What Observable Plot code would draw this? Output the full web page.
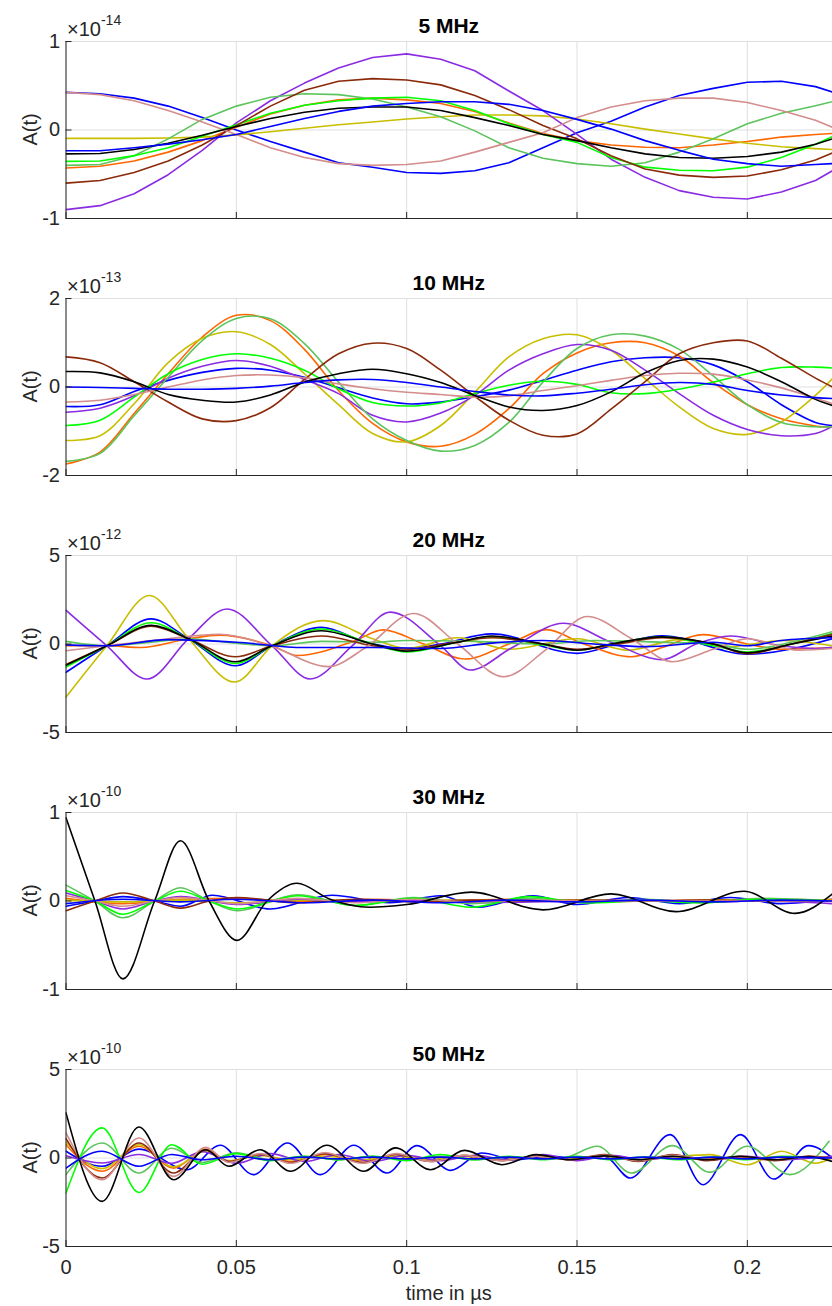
<!DOCTYPE html>
<html>
<head>
<meta charset="utf-8">
<script src="https://cdn.jsdelivr.net/npm/d3@7"></script>
<script src="https://cdn.jsdelivr.net/npm/@observablehq/plot@0.6"></script>
<style>
  body { margin: 0; background: #fff; }
  #chart { width: 832px; height: 1306px; overflow: hidden; font-family: "Liberation Sans", Arial, Helvetica, sans-serif; }
  #chart svg { display: block; }
</style>
</head>
<body>
<div id="chart"></div>
<script>
// ---------- shared axis setup ----------
const xTicks = [0, 0.05, 0.1, 0.15, 0.2];
const xTickLabels = ["0", "0.05", "0.1", "0.15", "0.2"];
const xLabel = "time in \u00B5s";
const yLabel = "A(t)";

// line colours, one per receiver trace
const colBlue = "#0000FF", colOrange = "#FF6600", colYellow = "#C8BE00", colPurple = "#8B2BE2",
      colMidGreen = "#5CC45C", colGreen = "#00FF00", colBrown = "#8B2A0A", colPink = "#D48C8C",
      colBlack = "#000000";

// ---------- 5 MHz (x 1e-14) sampled every 0.01 µs ----------
const t5 = [0, 0.01, 0.02, 0.03, 0.04, 0.05, 0.06, 0.07, 0.08, 0.09, 0.1, 0.11, 0.12, 0.13, 0.14, 0.15, 0.16, 0.17, 0.18, 0.19, 0.2, 0.21, 0.22, 0.225];
const f5_blue    = [0.425, 0.41, 0.36, 0.27, 0.14, 0.00, -0.13, -0.25, -0.37, -0.42, -0.48, -0.49, -0.46, -0.37, -0.20, -0.03, 0.10, 0.26, 0.39, 0.47, 0.54, 0.55, 0.49, 0.43];
const f5_orange  = [-0.43, -0.41, -0.35, -0.25, -0.12, 0.03, 0.18, 0.28, 0.34, 0.36, 0.34, 0.30, 0.21, 0.08, -0.04, -0.12, -0.17, -0.195, -0.2, -0.17, -0.13, -0.08, -0.05, -0.04];
const f5_yellow  = [-0.095, -0.095, -0.095, -0.09, -0.08, -0.055, -0.02, 0.02, 0.06, 0.09, 0.125, 0.15, 0.17, 0.17, 0.16, 0.125, 0.07, 0.01, -0.045, -0.10, -0.15, -0.19, -0.21, -0.22];
const f5_purple  = [-0.90, -0.855, -0.72, -0.505, -0.23, 0.08, 0.33, 0.53, 0.70, 0.82, 0.86, 0.80, 0.67, 0.44, 0.22, -0.05, -0.33, -0.535, -0.685, -0.76, -0.78, -0.70, -0.57, -0.46];
const f5_midGreen= [-0.40, -0.39, -0.29, -0.10, 0.12, 0.27, 0.37, 0.41, 0.40, 0.35, 0.26, 0.15, -0.01, -0.20, -0.32, -0.38, -0.41, -0.37, -0.25, -0.10, 0.07, 0.19, 0.275, 0.32];
const f5_green   = [-0.355, -0.35, -0.29, -0.20, -0.07, 0.06, 0.19, 0.28, 0.33, 0.36, 0.37, 0.33, 0.22, 0.07, -0.05, -0.14, -0.31, -0.42, -0.455, -0.46, -0.42, -0.31, -0.16, -0.075];
const f5_brown   = [-0.60, -0.57, -0.48, -0.35, -0.17, 0.05, 0.27, 0.45, 0.55, 0.58, 0.565, 0.51, 0.39, 0.23, 0.05, -0.10, -0.29, -0.44, -0.51, -0.535, -0.52, -0.45, -0.34, -0.26];
const f5_pink    = [0.425, 0.40, 0.33, 0.22, 0.09, -0.05, -0.20, -0.31, -0.38, -0.40, -0.39, -0.35, -0.25, -0.14, -0.03, 0.14, 0.26, 0.33, 0.36, 0.36, 0.31, 0.22, 0.11, 0.03];
const f5_black   = [-0.27, -0.265, -0.22, -0.15, -0.06, 0.04, 0.13, 0.20, 0.245, 0.26, 0.26, 0.22, 0.14, 0.05, -0.05, -0.12, -0.20, -0.27, -0.31, -0.32, -0.30, -0.25, -0.16, -0.10];
const f5_blue2   = [-0.235, -0.235, -0.20, -0.16, -0.11, -0.05, 0.04, 0.13, 0.21, 0.27, 0.30, 0.32, 0.32, 0.29, 0.22, 0.12, 0.01, -0.12, -0.23, -0.33, -0.38, -0.41, -0.39, -0.38];

// ---------- 10 MHz (x 1e-13) sampled every 0.01 µs ----------
const t10 = t5;
const f10_blue    = [-0.44, -0.40, -0.10, 0.15, 0.33, 0.42, 0.38, 0.22, -0.02, -0.25, -0.38, -0.34, -0.22, -0.07, 0.15, 0.38, 0.57, 0.66, 0.66, 0.50, 0.12, -0.40, -0.80, -0.87];
const f10_orange  = [-1.74, -1.47, -0.60, 0.30, 1.13, 1.62, 1.50, 0.85, -0.08, -0.82, -1.24, -1.34, -1.07, -0.49, 0.30, 0.77, 1.00, 1.00, 0.70, 0.10, -0.40, -0.72, -0.88, -0.91];
const f10_yellow  = [-1.21, -1.10, -0.38, 0.55, 1.10, 1.25, 0.96, 0.30, -0.40, -1.05, -1.24, -0.87, -0.12, 0.68, 1.09, 1.18, 0.83, 0.19, -0.45, -0.94, -1.07, -0.79, -0.19, 0.19];
const f10_purple  = [-0.57, -0.48, -0.20, 0.20, 0.47, 0.60, 0.47, 0.17, -0.15, -0.64, -0.79, -0.59, -0.19, 0.38, 0.75, 0.96, 0.83, 0.38, -0.15, -0.64, -0.96, -1.10, -1.05, -0.89];
const f10_midGreen= [-1.68, -1.50, -0.65, 0.22, 1.05, 1.55, 1.54, 0.98, 0.11, -0.72, -1.21, -1.45, -1.32, -0.80, 0.11, 0.87, 1.18, 1.15, 0.85, 0.25, -0.40, -0.80, -0.90, -0.90];
const f10_green   = [-0.87, -0.75, -0.23, 0.30, 0.62, 0.75, 0.65, 0.38, -0.04, -0.35, -0.43, -0.36, -0.15, 0.04, 0.13, 0.06, -0.13, -0.15, -0.05, 0.11, 0.30, 0.44, 0.45, 0.43];
const f10_brown   = [0.68, 0.55, 0.12, -0.34, -0.72, -0.76, -0.47, 0.17, 0.75, 0.99, 0.87, 0.38, -0.21, -0.75, -1.09, -1.06, -0.50, 0.12, 0.75, 1.00, 1.04, 0.65, 0.20, 0.00];
const f10_pink    = [-0.34, -0.30, -0.17, 0.00, 0.16, 0.26, 0.27, 0.21, 0.07, -0.04, -0.12, -0.17, -0.23, -0.20, -0.08, 0.03, 0.15, 0.26, 0.31, 0.29, 0.16, -0.02, -0.25, -0.38];
const f10_black   = [0.35, 0.32, 0.12, -0.17, -0.30, -0.34, -0.18, 0.11, 0.30, 0.40, 0.30, 0.10, -0.19, -0.45, -0.53, -0.42, -0.11, 0.32, 0.60, 0.63, 0.45, 0.12, -0.28, -0.42];
const f10_blue2   = [0.00, -0.01, -0.03, -0.05, -0.05, -0.03, 0.02, 0.10, 0.16, 0.17, 0.10, 0.00, -0.10, -0.18, -0.20, -0.14, -0.05, 0.05, 0.10, 0.06, -0.08, -0.18, -0.24, -0.26];

// ---------- 20 MHz (x 1e-12) turning points [t, value] ----------
const f20_blue    = [[0,-1.6],[0.012,-0.1],[0.025,1.42],[0.036,0.3],[0.0497,-1.23],[0.0605,-0.1],[0.075,0.94],[0.088,0.1],[0.1,-0.25],[0.11,0.0],[0.125,0.57],[0.15,-0.53],[0.162,0.0],[0.175,0.47],[0.2,-0.57],[0.225,0.3]];
const f20_orange  = [[0,-0.1],[0.012,-0.1],[0.022,-0.2],[0.036,0.3],[0.045,0.5],[0.0605,-0.1],[0.068,-0.65],[0.085,0.2],[0.093,0.8],[0.105,0.0],[0.117,-0.85],[0.13,0.0],[0.141,0.81],[0.152,0.0],[0.166,-0.72],[0.175,-0.2],[0.187,0.53],[0.2,0.0],[0.21,-0.3],[0.225,-0.2]];
const f20_yellow  = [[0,-3.0],[0.012,-0.1],[0.0245,2.74],[0.036,0.3],[0.0495,-2.15],[0.0605,-0.1],[0.0755,1.32],[0.09,0.3],[0.1,-0.25],[0.115,0.35],[0.13,-0.3],[0.15,0.3],[0.165,-0.35],[0.18,0.25],[0.195,-0.15],[0.21,0.2],[0.225,-0.1]];
const f20_purple  = [[0,1.9],[0.012,-0.1],[0.0238,-1.98],[0.036,0.3],[0.0473,1.98],[0.0605,-0.1],[0.0717,-1.98],[0.084,-0.1],[0.0952,1.8],[0.11,-0.1],[0.1187,-1.47],[0.131,-0.2],[0.146,1.17],[0.16,0.1],[0.175,-0.89],[0.185,0.0],[0.195,0.45],[0.21,-0.1],[0.22,-0.25],[0.225,-0.2]];
const f20_midGreen= [[0,0.15],[0.012,-0.1],[0.025,0.1],[0.036,0.3],[0.05,0.05],[0.0605,-0.1],[0.075,0.15],[0.09,0.1],[0.1,0.2],[0.12,0.15],[0.14,0.0],[0.155,0.2],[0.175,0.1],[0.19,0.0],[0.2,-0.3],[0.215,0.2],[0.225,0.7]];
const f20_green   = [[0,-1.3],[0.012,-0.1],[0.025,1.2],[0.036,0.3],[0.0497,-1.1],[0.0605,-0.1],[0.075,0.85],[0.09,0.0],[0.1,-0.45],[0.115,0.1],[0.125,0.4],[0.14,-0.05],[0.15,-0.35],[0.16,0.0],[0.175,0.4],[0.19,-0.1],[0.2,-0.45],[0.213,0.0],[0.225,0.6]];
const f20_brown   = [[0,-1.15],[0.012,-0.1],[0.025,1.0],[0.036,0.3],[0.0497,-0.72],[0.0605,-0.1],[0.075,0.45],[0.09,-0.1],[0.1,-0.3],[0.113,0.05],[0.125,0.35],[0.14,0.0],[0.15,-0.3],[0.162,0.0],[0.175,0.35],[0.19,0.0],[0.2,-0.55],[0.213,0.0],[0.225,0.55]];
const f20_pink    = [[0,-0.38],[0.012,-0.1],[0.03,0.3],[0.045,0.55],[0.06,-0.1],[0.077,-1.28],[0.088,-0.2],[0.102,1.72],[0.115,0.0],[0.1285,-1.85],[0.141,-0.3],[0.153,1.55],[0.166,0.3],[0.178,-1.0],[0.19,-0.3],[0.2,0.3],[0.215,-0.35],[0.225,-0.25]];
const f20_black   = [[0,-1.2],[0.012,-0.1],[0.025,1.05],[0.036,0.3],[0.0497,-1.0],[0.0605,-0.1],[0.075,0.75],[0.09,0.0],[0.1,-0.4],[0.115,0.1],[0.125,0.45],[0.14,0.0],[0.15,-0.35],[0.16,0.0],[0.175,0.4],[0.19,0.0],[0.2,-0.5],[0.213,0.0],[0.225,0.45]];
const f20_blue2   = [[0,-0.05],[0.012,-0.1],[0.03,0.25],[0.05,0.1],[0.07,-0.2],[0.09,-0.2],[0.11,-0.25],[0.125,0.05],[0.14,0.2],[0.155,0.0],[0.17,-0.15],[0.19,0.1],[0.2,-0.1],[0.21,0.2],[0.225,0.35]];

// ---------- 30 MHz (x 1e-10) turning points [t, value] ----------
const f30_blue    = [[0,-0.06],[0.0085,0],[0.0167,0.05],[0.026,0],[0.0336,-0.06],[0.043,0.065],[0.06,-0.09],[0.078,0.065],[0.095,-0.02],[0.11,0.06],[0.121,-0.07],[0.137,0.06],[0.15,-0.04],[0.165,0.04],[0.18,-0.03],[0.195,0.04],[0.21,-0.03],[0.225,0.02]];
const f30_orange  = [[0,0.03],[0.0167,-0.03],[0.0336,0.02],[0.05,0.03],[0.07,-0.01],[0.09,0.02],[0.11,0.0],[0.13,0.02],[0.15,-0.01],[0.17,0.0],[0.19,0.01],[0.21,0.0],[0.225,0.02]];
const f30_yellow  = [[0,0.01],[0.0167,-0.01],[0.0336,0.01],[0.05,-0.02],[0.07,0.01],[0.09,0.0],[0.11,0.01],[0.13,0.0],[0.15,0.01],[0.17,0.0],[0.19,0.01],[0.21,0.02],[0.225,0.01]];
const f30_purple  = [[0,0.09],[0.0085,0],[0.0167,-0.09],[0.026,0],[0.0336,0.05],[0.0502,-0.04],[0.068,0.02],[0.085,-0.01],[0.102,0.01],[0.119,-0.02],[0.136,-0.01],[0.153,0.0],[0.17,0.01],[0.187,-0.01],[0.204,0.0],[0.225,-0.03]];
const f30_midGreen= [[0,0.18],[0.0085,0],[0.0167,-0.19],[0.026,0],[0.0336,0.15],[0.042,0],[0.0502,-0.11],[0.068,0.07],[0.085,-0.05],[0.102,0.04],[0.119,-0.03],[0.136,0.03],[0.153,-0.02],[0.17,0.02],[0.187,-0.02],[0.204,0.03],[0.225,0.0]];
const f30_green   = [[0,0.12],[0.0085,0],[0.0167,-0.15],[0.026,0],[0.0336,0.11],[0.042,0],[0.0502,-0.09],[0.068,0.06],[0.085,-0.05],[0.102,0.03],[0.119,-0.07],[0.136,0.05],[0.153,-0.02],[0.17,0.0],[0.187,-0.02],[0.204,0.02],[0.225,0.0]];
const f30_brown   = [[0,-0.11],[0.0085,0],[0.0167,0.09],[0.026,0],[0.0336,-0.08],[0.042,0],[0.0502,0.04],[0.068,-0.02],[0.085,0.02],[0.102,-0.01],[0.119,0.01],[0.136,0.0],[0.153,0.01],[0.17,0.0],[0.187,0.01],[0.204,0.0],[0.225,0.0]];
const f30_pink    = [[0,0.06],[0.0085,0],[0.0167,-0.06],[0.026,0],[0.0336,0.04],[0.0502,-0.03],[0.068,0.03],[0.085,-0.02],[0.102,0.02],[0.119,-0.01],[0.136,0.01],[0.153,0.0],[0.17,0.0],[0.187,0.0],[0.204,0.0],[0.225,0.0]];
const f30_black   = [[0,0.94],[0.0085,0.0],[0.0167,-0.88],[0.026,0.0],[0.0336,0.68],[0.042,0.0],[0.0502,-0.445],[0.059,0.0],[0.0678,0.2],[0.0775,0.02],[0.089,-0.07],[0.1,-0.04],[0.119,0.1],[0.14,-0.1],[0.16,0.08],[0.179,-0.12],[0.199,0.11],[0.214,-0.14],[0.225,0.08]];
const f30_blue2   = [[0,-0.03],[0.0167,0.02],[0.0336,-0.01],[0.05,0.02],[0.07,-0.02],[0.09,0.01],[0.11,-0.02],[0.13,0.01],[0.15,-0.01],[0.17,0.01],[0.19,-0.01],[0.21,0.01],[0.225,0.0]];

// ---------- 50 MHz (x 1e-10) turning points [t, value] ----------
const f50_blue    = [[0,0.38],[0.0106,-0.47],[0.0214,0.5],[0.0355,-0.66],[0.0453,0.72],[0.055,-0.94],[0.065,0.85],[0.0747,-0.94],[0.0845,0.72],[0.0942,-0.85],[0.103,0.7],[0.113,-0.7],[0.122,0.28],[0.132,-0.1],[0.142,0.1],[0.152,-0.05],[0.158,0.1],[0.1656,-1.13],[0.1773,1.32],[0.187,-1.51],[0.198,1.32],[0.2077,-1.19],[0.218,0.7],[0.225,0.0]];
const f50_orange  = [[0,0.75],[0.0106,-0.75],[0.0214,0.66],[0.0316,-0.57],[0.041,0.5],[0.0478,-0.2],[0.057,0.2],[0.066,-0.2],[0.076,0.2],[0.087,-0.15],[0.097,0.2],[0.107,-0.1],[0.117,0.1],[0.128,-0.1],[0.138,0.1],[0.148,-0.05],[0.158,0.1],[0.168,-0.1],[0.178,0.1],[0.188,-0.05],[0.198,0.05],[0.208,-0.1],[0.218,0.1],[0.225,0.0]];
const f50_yellow  = [[0,0.9],[0.0106,-0.6],[0.0214,0.75],[0.0316,-0.5],[0.041,0.4],[0.0478,-0.15],[0.057,0.15],[0.066,-0.1],[0.076,0.1],[0.087,-0.1],[0.097,0.1],[0.107,-0.1],[0.117,0.1],[0.128,-0.1],[0.138,0.1],[0.148,-0.05],[0.158,0.1],[0.168,-0.1],[0.178,0.05],[0.189,0.19],[0.2,-0.38],[0.21,0.38],[0.22,-0.3],[0.225,0.0]];
const f50_purple  = [[0,0.13],[0.0106,-0.28],[0.0214,0.2],[0.031,-0.3],[0.04,0.35],[0.05,-0.3],[0.06,0.25],[0.07,-0.2],[0.08,0.2],[0.09,-0.2],[0.1,0.15],[0.11,-0.15],[0.12,0.15],[0.13,-0.1],[0.14,0.2],[0.15,-0.15],[0.16,0.15],[0.17,-0.1],[0.18,0.1],[0.19,-0.1],[0.2,0.1],[0.21,-0.1],[0.225,0.1]];
const f50_midGreen= [[0,-0.94],[0.0106,0.85],[0.0214,-0.85],[0.031,0.55],[0.04,-0.25],[0.05,0.3],[0.06,-0.1],[0.07,0.1],[0.08,-0.1],[0.09,0.1],[0.1,-0.1],[0.11,0.1],[0.12,-0.1],[0.13,0.05],[0.14,-0.05],[0.146,0.0],[0.156,0.66],[0.166,-0.85],[0.178,0.7],[0.189,-0.8],[0.2,0.66],[0.2125,-0.94],[0.224,0.94]];
const f50_green   = [[0,-1.98],[0.0106,1.7],[0.0214,-1.95],[0.031,0.75],[0.04,-0.35],[0.05,0.25],[0.06,-0.15],[0.07,0.1],[0.08,-0.1],[0.09,0.1],[0.1,-0.15],[0.11,0.2],[0.12,-0.1],[0.13,0.1],[0.14,-0.1],[0.15,0.1],[0.16,-0.1],[0.17,0.05],[0.18,-0.1],[0.19,0.05],[0.2,-0.1],[0.21,0.1],[0.225,0.0]];
const f50_brown   = [[0,1.09],[0.0106,-1.13],[0.0214,0.85],[0.0316,-0.85],[0.041,0.45],[0.0478,-0.2],[0.057,0.2],[0.066,-0.25],[0.076,0.25],[0.087,-0.25],[0.097,0.2],[0.107,-0.2],[0.117,0.15],[0.128,-0.15],[0.138,0.1],[0.148,-0.1],[0.158,0.2],[0.168,-0.2],[0.178,0.2],[0.188,-0.15],[0.198,0.1],[0.208,-0.15],[0.218,0.1],[0.225,0.0]];
const f50_pink    = [[0,1.42],[0.0106,-1.23],[0.0214,1.13],[0.0316,-1.04],[0.041,0.6],[0.0478,-0.25],[0.057,0.25],[0.066,-0.3],[0.076,0.3],[0.087,-0.3],[0.097,0.25],[0.107,-0.2],[0.117,0.15],[0.128,-0.15],[0.138,0.1],[0.148,-0.1],[0.158,0.15],[0.168,-0.15],[0.178,0.15],[0.188,-0.1],[0.198,0.1],[0.208,-0.1],[0.218,0.05],[0.225,0.0]];
const f50_black   = [[0,2.55],[0.0106,-2.45],[0.0214,1.75],[0.0316,-1.23],[0.041,0.47],[0.0478,-0.47],[0.057,0.47],[0.0659,-0.75],[0.0766,0.72],[0.0874,-0.75],[0.0967,0.57],[0.107,-0.66],[0.117,0.43],[0.128,-0.38],[0.138,0.19],[0.148,-0.1],[0.158,0.12],[0.168,-0.1],[0.178,0.1],[0.188,-0.1],[0.198,0.1],[0.208,-0.1],[0.218,0.08],[0.225,-0.2]];
const f50_blue2   = [[0,-0.57],[0.0106,0.38],[0.0214,-0.47],[0.031,0.2],[0.04,-0.1],[0.05,0.1],[0.06,-0.1],[0.07,0.05],[0.08,-0.05],[0.09,0.05],[0.1,-0.05],[0.11,0.05],[0.12,-0.05],[0.13,0.05],[0.14,-0.05],[0.15,0.05],[0.16,-0.05],[0.17,0.05],[0.18,-0.05],[0.19,0.05],[0.2,-0.05],[0.21,0.05],[0.225,0.0]];

// ---------- panel definitions ----------
const zipGrid = (t, v) => t.map((ti, i) => [ti, v[i]]);
const colourOrder = [colBlue, colOrange, colYellow, colPurple, colMidGreen, colGreen, colBrown, colPink, colBlack, colBlue];

const panels = [
  {title: "5 MHz", exponent: "-14", yMax: 1, curve: "linear",
   traces: [f5_blue, f5_orange, f5_yellow, f5_purple, f5_midGreen, f5_green, f5_brown, f5_pink, f5_black, f5_blue2].map(v => zipGrid(t5, v))},
  {title: "10 MHz", exponent: "-13", yMax: 2, curve: "catmull-rom",
   traces: [f10_blue, f10_orange, f10_yellow, f10_purple, f10_midGreen, f10_green, f10_brown, f10_pink, f10_black, f10_blue2].map(v => zipGrid(t10, v))},
  {title: "20 MHz", exponent: "-12", yMax: 5, curve: "monotone-x",
   traces: [f20_blue, f20_orange, f20_yellow, f20_purple, f20_midGreen, f20_green, f20_brown, f20_pink, f20_black, f20_blue2]},
  {title: "30 MHz", exponent: "-10", yMax: 1, curve: "monotone-x",
   traces: [f30_blue, f30_orange, f30_yellow, f30_purple, f30_midGreen, f30_green, f30_brown, f30_pink, f30_black, f30_blue2]},
  {title: "50 MHz", exponent: "-10", yMax: 5, curve: "monotone-x",
   traces: [f50_blue, f50_orange, f50_yellow, f50_purple, f50_midGreen, f50_green, f50_brown, f50_pink, f50_black, f50_blue2]}
];

const axisColor = "#262626";
const gridColor = "#DFDFDF";
const fontFamily = '"Liberation Sans", Arial, Helvetica, sans-serif';
const container = document.getElementById("chart");

panels.forEach((p, k) => {
  const last = k === panels.length - 1;
  const height = last ? 278 : 257;
  const marginTop = 41;
  const yTicks = [-p.yMax, 0, p.yMax];

  const svg = Plot.plot({
    width: 832,
    height,
    marginLeft: 65.5,
    marginRight: 0,
    marginTop,
    marginBottom: height - marginTop - 177,
    style: {fontFamily, fontSize: "20px", color: axisColor, background: "#fff", overflow: "hidden"},
    x: {domain: [0, 0.225]},
    y: {domain: [-p.yMax, p.yMax]},
    marks: [
      Plot.gridX(xTicks, {stroke: gridColor, strokeOpacity: 1}),
      Plot.gridY(yTicks, {stroke: gridColor, strokeOpacity: 1}),
      ...p.traces.map((pts, i) => Plot.line(pts, {
        x: d => d[0], y: d => d[1],
        stroke: colourOrder[i], strokeWidth: 1.6, curve: p.curve, clip: true
      })),
      Plot.ruleX([0], {stroke: axisColor, strokeWidth: 1}),
      Plot.ruleY([-p.yMax], {stroke: axisColor, strokeWidth: 1}),
      Plot.axisX(xTicks, {
        tickSize: -6, tickPadding: 19, label: null,
        tickFormat: last ? (d => xTickLabels[xTicks.indexOf(d)]) : (() => ""),
        stroke: axisColor, fill: axisColor
      }),
      Plot.axisY(yTicks, {
        tickSize: -6, tickPadding: 12, label: null,
        tickFormat: d => String(d),
        stroke: axisColor, fill: axisColor
      })
    ]
  });

  const s = d3.select(svg);
  const cx = (65.5 + 832) / 2;
  // panel title
  s.append("text")
    .attr("x", cx).attr("y", 32.5)
    .attr("text-anchor", "middle")
    .attr("font-family", fontFamily).attr("font-size", 21).attr("font-weight", "bold")
    .attr("fill", "#000")
    .text(p.title);
  // common exponent of the y axis
  const ex = s.append("text")
    .attr("x", 67).attr("y", 36)
    .attr("text-anchor", "start")
    .attr("font-family", fontFamily).attr("font-size", 20)
    .attr("fill", axisColor);
  ex.append("tspan").text("\u00D710");
  ex.append("tspan").attr("font-size", 14).attr("dy", -11).text(p.exponent);
  // y axis label
  s.append("text")
    .attr("transform", `translate(36.5,${marginTop + 177 / 2}) rotate(-90)`)
    .attr("text-anchor", "middle")
    .attr("font-family", fontFamily).attr("font-size", 20)
    .attr("fill", axisColor)
    .text(yLabel);
  // x axis label under the last panel
  if (last) {
    s.append("text")
      .attr("x", cx).attr("y", 272)
      .attr("text-anchor", "middle")
      .attr("font-family", fontFamily).attr("font-size", 20)
      .attr("fill", axisColor)
      .text(xLabel);
  }
  container.appendChild(svg);
});
</script>
</body>
</html>
